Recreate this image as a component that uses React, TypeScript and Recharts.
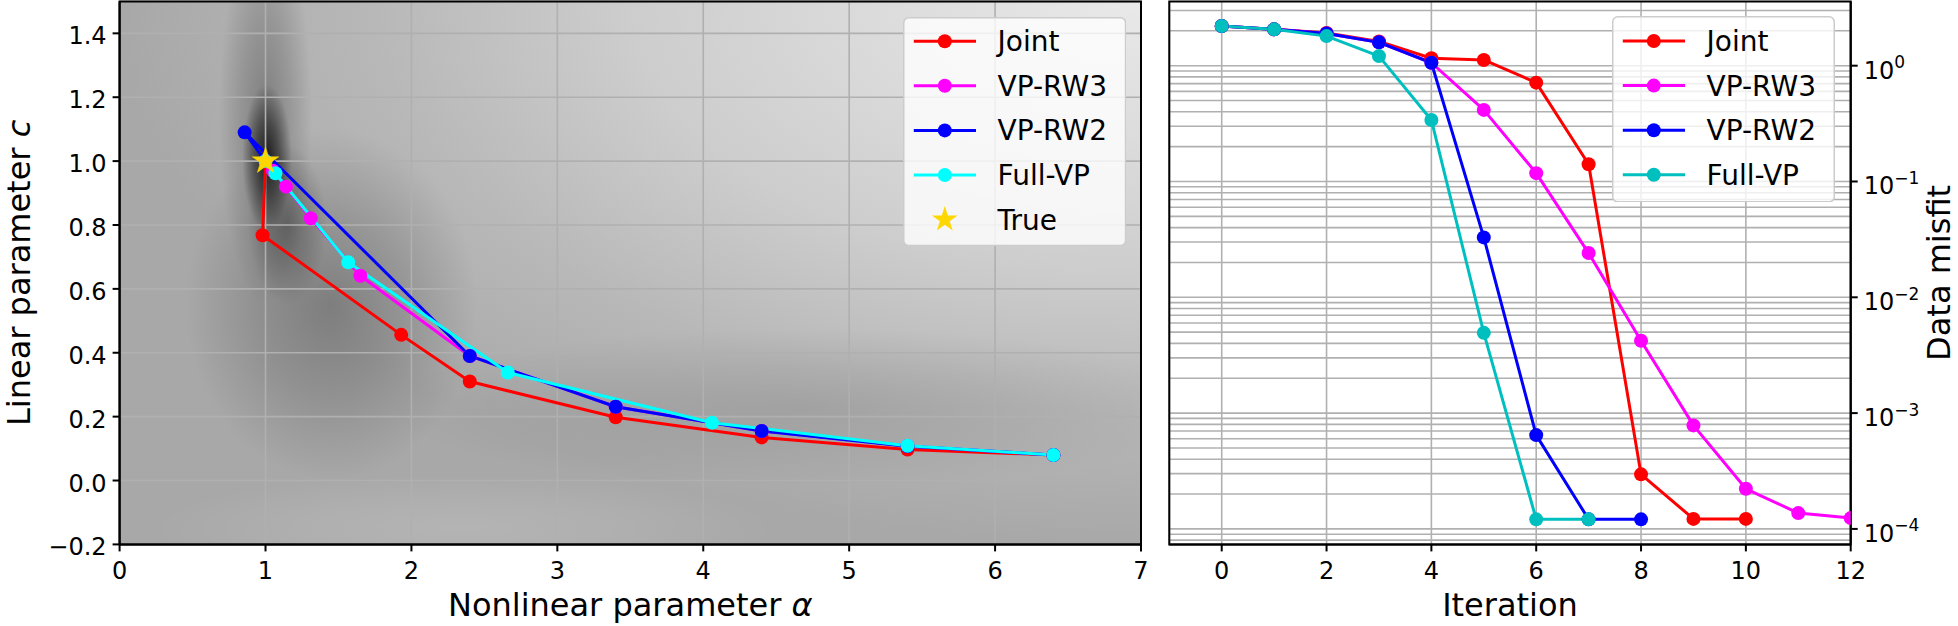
import React from 'react';
import {
  ComposedChart,
  Line,
  Scatter,
  XAxis,
  YAxis,
  CartesianGrid,
  ReferenceArea,
  ReferenceLine,
  Legend,
} from 'recharts';

const FONT = '"DejaVu Sans", "Liberation Sans", sans-serif';

// ---------------- Left panel: trajectories in (alpha, c) ----------------
const JOINT_ALPHA = [6.4, 5.4, 4.4, 3.4, 2.4, 1.93, 0.98, 1.0];
const JOINT_C = [0.08, 0.097, 0.135, 0.198, 0.31, 0.456, 0.768, 1.0];
const RW3_ALPHA = [6.4, 5.4, 4.4, 3.4, 2.4, 1.65, 1.31, 1.14, 1.05, 1.0];
const RW3_C = [0.08, 0.108, 0.155, 0.231, 0.39, 0.641, 0.821, 0.92, 0.97, 1.0];
const RW2_ALPHA = [6.4, 5.4, 4.4, 3.4, 2.4, 0.857, 1.0];
const RW2_C = [0.08, 0.107, 0.155, 0.231, 0.39, 1.09, 1.0];
const FULLVP_ALPHA = [6.4, 5.4, 4.06, 2.66, 1.567, 1.068, 1.0];
const FULLVP_C = [0.08, 0.109, 0.181, 0.338, 0.683, 0.962, 1.0];
const TRUE_ALPHA = [1.0];
const TRUE_C = [1.0];

const LEFT_X_TICKS = [0, 1, 2, 3, 4, 5, 6, 7];
const LEFT_Y_TICKS = [-0.2, 0, 0.2, 0.4, 0.6, 0.8, 1.0, 1.2, 1.4];

// ---------------- Right panel: data misfit vs iteration ----------------
const JOINT_ITER = [0, 1, 2, 3, 4, 5, 6, 7, 8, 9, 10];
const JOINT_MISFIT = [2.2, 2.06, 1.92, 1.62, 1.16, 1.12, 0.714, 0.141, 2.96e-4, 1.22e-4, 1.22e-4];
const RW3_ITER = [0, 1, 2, 3, 4, 5, 6, 7, 8, 9, 10, 11, 12];
const RW3_MISFIT = [2.2, 2.06, 1.9, 1.59, 1.06, 0.415, 0.118, 0.0241, 4.21e-3, 7.83e-4, 2.22e-4, 1.37e-4, 1.24e-4];
const RW2_ITER = [0, 1, 2, 3, 4, 5, 6, 7, 8];
const RW2_MISFIT = [2.2, 2.06, 1.9, 1.59, 1.06, 0.0329, 6.46e-4, 1.21e-4, 1.21e-4];
const FULLVP_ITER = [0, 1, 2, 3, 4, 5, 6, 7];
const FULLVP_MISFIT = [2.2, 2.06, 1.8, 1.21, 0.34, 4.93e-3, 1.21e-4, 1.21e-4];

const RIGHT_X_TICKS = [0, 2, 4, 6, 8, 10, 12];
const MAJOR_Y_TICKS = [1e-4, 1e-3, 1e-2, 1e-1, 1];
const LOG_DOMAIN: [number, number] = [7.35e-5, 3.59];
const MINOR_MULT = [2, 3, 4, 5, 6, 7, 8, 9];
const DECADES = [-5, -4, -3, -2, -1, 0];
const MINOR_Y_TICKS = DECADES.flatMap((d) => MINOR_MULT.map((m) => m * Math.pow(10, d))).filter(
  (v) => v >= LOG_DOMAIN[0] && v <= LOG_DOMAIN[1]
);

const SERIES_NAMES = ['Joint', 'VP-RW3', 'VP-RW2', 'Full-VP'];
const LEFT_COLORS = ['#ff0000', '#ff00ff', '#0000ff', '#00ffff'];
const RIGHT_COLORS = ['#ff0000', '#ff00ff', '#0000ff', '#00bfbf'];

const zipAC = (a: number[], c: number[]) => a.map((v, i) => ({ a: v, c: c[i] }));
const zipIM = (it: number[], m: number[]) => it.map((v, i) => ({ i: v, m: m[i] }));

const LEFT_DATA = [
  zipAC(JOINT_ALPHA, JOINT_C),
  zipAC(RW3_ALPHA, RW3_C),
  zipAC(RW2_ALPHA, RW2_C),
  zipAC(FULLVP_ALPHA, FULLVP_C),
];
const TRUE_DATA = zipAC(TRUE_ALPHA, TRUE_C);
const RIGHT_DATA = [
  zipIM(JOINT_ITER, JOINT_MISFIT),
  zipIM(RW3_ITER, RW3_MISFIT),
  zipIM(RW2_ITER, RW2_MISFIT),
  zipIM(FULLVP_ITER, FULLVP_MISFIT),
];

// decorative shading of the misfit landscape behind the left panel (data units)
const BG_BLOBS = [
  { a1: 0.45, a2: 2.45, c1: 0.0, c2: 1.1, op: 0.26, fill: 'url(#blobDark)' },
  { a1: 0.68, a2: 1.32, c1: 0.55, c2: 1.75, op: 0.28, fill: 'url(#blobDark)' },
  { a1: 0.88, a2: 1.42, c1: 0.55, c2: 1.05, op: 0.3, fill: 'url(#blobDark)' },
  { a1: 0.84, a2: 1.18, c1: 0.78, c2: 1.24, op: 0.8, fill: 'url(#blobDark)' },
  { a1: 1.8, a2: 7.6, c1: -0.02, c2: 0.48, op: 0.1, fill: 'url(#blobDark)' },
  { a1: 0.2, a2: 4.5, c1: -0.32, c2: 0.02, op: 0.14, fill: 'url(#blobLight)' },
];

const H = 626;
const LEFT_W = 1160;
const RIGHT_W = 798;
const AXIS_LINE = { stroke: '#000', strokeWidth: 2 };
const TICK_LINE = { stroke: '#000', strokeWidth: 2 };
const LABEL_FS = 32;

const XTick = (props: any) => {
  const { x, y, payload } = props;
  return (
    <text x={x} y={y} dy={17} textAnchor="middle" fontSize={24} fill="#000">
      {String(payload.value)}
    </text>
  );
};

const LinTick = (props: any) => {
  const { x, y, payload } = props;
  const v = payload.value as number;
  const s = (v < 0 ? '\u2212' : '') + Math.abs(v).toFixed(1);
  return (
    <text x={x} y={y} dy={11} textAnchor="end" fontSize={24} fill="#000">
      {s}
    </text>
  );
};

const LogTick = (props: any) => {
  const { x, y, payload } = props;
  const e = Math.round(Math.log10(payload.value));
  const sup = e < 0 ? `\u2212${-e}` : `${e}`;
  return (
    <text x={x} y={y} dy={13} textAnchor="start" fontSize={24} fill="#000">
      10
      <tspan dy={-10.5} fontSize={17}>
        {sup}
      </tspan>
    </text>
  );
};

const starPoints = (cx: number, cy: number, r: number) => {
  const pts: string[] = [];
  for (let k = 0; k < 10; k++) {
    const ang = -Math.PI / 2 + (k * Math.PI) / 5;
    const rr = k % 2 === 0 ? r : r * 0.382;
    pts.push(`${cx + rr * Math.cos(ang)},${cy + rr * Math.sin(ang)}`);
  }
  return pts.join(' ');
};

const StarShape = (props: any) => {
  const { cx, cy } = props;
  return <polygon points={starPoints(cx, cy, 14)} fill="#ffd700" stroke="#ffd700" strokeWidth={0.5} />;
};

type LegendItem = { name: string; color: string; star?: boolean };

const LegendBox = ({ items, width, height, row0 }: { items: LegendItem[]; width: number; height: number; row0: number }) => (
  <svg width={width} height={height} style={{ display: 'block', fontFamily: FONT }}>
    <rect
      x={0.75}
      y={0.75}
      width={width - 1.5}
      height={height - 1.5}
      rx={5}
      ry={5}
      fill="#ffffff"
      fillOpacity={0.8}
      stroke="#cccccc"
      strokeWidth={1.5}
    />
    {items.map((it, k) => {
      const cy = row0 + k * 44.6;
      return (
        <g key={it.name}>
          {it.star ? (
            <polygon points={starPoints(41.8, cy, 13.5)} fill="#ffd700" />
          ) : (
            <g>
              <line x1={10.8} x2={73} y1={cy} y2={cy} stroke={it.color} strokeWidth={3} />
              <circle cx={41.8} cy={cy} r={7} fill={it.color} />
            </g>
          )}
          <text x={94.6} y={cy} dy={10} fontSize={28} fill="#000">
            {it.name}
          </text>
        </g>
      );
    })}
  </svg>
);

const LEFT_LEGEND: LegendItem[] = [
  ...SERIES_NAMES.map((n, i) => ({ name: n, color: LEFT_COLORS[i] })),
  { name: 'True', color: '#ffd700', star: true },
];
const RIGHT_LEGEND: LegendItem[] = SERIES_NAMES.map((n, i) => ({ name: n, color: RIGHT_COLORS[i] }));

const LeftChart = () => (
  <ComposedChart width={LEFT_W} height={H} margin={{ top: 1.4, right: 19, bottom: 0, left: 0 }}>
    <defs>
      <radialGradient id="bgLight" cx="1" cy="0" r="1" fx="1" fy="0">
        <stop offset="0" stopColor="#e9e9e9" />
        <stop offset="0.25" stopColor="#dcdcdc" />
        <stop offset="0.5" stopColor="#cdcdcd" />
        <stop offset="0.75" stopColor="#b8b8b8" />
        <stop offset="1" stopColor="#a8a8a8" />
      </radialGradient>
      <radialGradient id="blobDark" cx="0.5" cy="0.5" r="0.5">
        <stop offset="0" stopColor="#000" stopOpacity="1" />
        <stop offset="0.5" stopColor="#000" stopOpacity="0.55" />
        <stop offset="1" stopColor="#000" stopOpacity="0" />
      </radialGradient>
      <radialGradient id="blobLight" cx="0.5" cy="0.5" r="0.5">
        <stop offset="0" stopColor="#fff" stopOpacity="1" />
        <stop offset="0.5" stopColor="#fff" stopOpacity="0.6" />
        <stop offset="1" stopColor="#fff" stopOpacity="0" />
      </radialGradient>
    </defs>
    <XAxis
      type="number"
      dataKey="a"
      domain={[0, 7]}
      ticks={LEFT_X_TICKS}
      interval={0}
      allowDataOverflow
      height={81.6}
      tickSize={7}
      tickMargin={10.6}
      tick={<XTick />}
      axisLine={AXIS_LINE}
      tickLine={TICK_LINE}
    />
    <YAxis
      type="number"
      dataKey="c"
      domain={[-0.2, 1.5]}
      ticks={LEFT_Y_TICKS}
      interval={0}
      allowDataOverflow
      width={119.6}
      tickSize={7}
      tickMargin={6}
      tick={<LinTick />}
      axisLine={AXIS_LINE}
      tickLine={TICK_LINE}
    />
    <ReferenceArea
      x1={0}
      x2={7}
      y1={-0.2}
      y2={1.5}
      fill="url(#bgLight)"
      fillOpacity={1}
      stroke="none"
      ifOverflow="hidden"
      zIndex={-300}
    />
    {BG_BLOBS.map((b, k) => (
      <ReferenceArea
        key={`blob${k}`}
        x1={b.a1}
        x2={b.a2}
        y1={b.c1}
        y2={b.c2}
        fill={b.fill}
        fillOpacity={b.op}
        stroke="none"
        ifOverflow="hidden"
        zIndex={-200}
      />
    ))}
    <CartesianGrid stroke="#b0b0b0" strokeWidth={1.6} />
    {LEFT_DATA.map((d, k) => (
      <Line
        key={SERIES_NAMES[k]}
        data={d}
        dataKey="c"
        name={SERIES_NAMES[k]}
        type="linear"
        stroke={LEFT_COLORS[k]}
        strokeWidth={3}
        strokeLinejoin="round"
        dot={{ r: 7, fill: LEFT_COLORS[k], stroke: 'none', strokeWidth: 0 }}
        activeDot={false}
        isAnimationActive={false}
      />
    ))}
    <Scatter data={TRUE_DATA} name="True" shape={<StarShape />} isAnimationActive={false} zIndex={3000} />
    <ReferenceArea x1={0} x2={7} y1={-0.2} y2={1.5} fill="none" stroke="#000" strokeWidth={2} ifOverflow="visible" />
    <Legend
      layout="vertical"
      align="center"
      verticalAlign="middle"
      wrapperStyle={{ left: 902.7, top: 16.7, width: 223.3, height: 229.3 }}
      content={() => <LegendBox items={LEFT_LEGEND} width={223.3} height={229.3} row0={24.2} />}
    />
    <text x={630.3} y={616} textAnchor="middle" fontSize={LABEL_FS} fill="#000">
      Nonlinear parameter <tspan fontStyle="italic">α</tspan>
    </text>
    <text transform="translate(30,272.9) rotate(-90)" textAnchor="middle" fontSize={LABEL_FS} fill="#000">
      Linear parameter <tspan fontStyle="italic">c</tspan>
    </text>
  </ComposedChart>
);

const RightChart = () => (
  <ComposedChart width={RIGHT_W} height={H} margin={{ top: 1.4, right: 0, bottom: 0, left: 9.3 }}>
    <XAxis
      type="number"
      dataKey="i"
      domain={[-1, 12]}
      ticks={RIGHT_X_TICKS}
      interval={0}
      allowDataOverflow
      height={81.6}
      tickSize={7}
      tickMargin={10.6}
      tick={<XTick />}
      axisLine={AXIS_LINE}
      tickLine={TICK_LINE}
    />
    <YAxis
      yAxisId="minor"
      orientation="right"
      type="number"
      scale="log"
      dataKey="m"
      domain={LOG_DOMAIN}
      allowDataOverflow
      ticks={MINOR_Y_TICKS}
      interval={0}
      width={0}
      tickSize={4}
      tick={false}
      axisLine={false}
      tickLine={{ stroke: '#000', strokeWidth: 1.5 }}
    />
    <YAxis
      yAxisId="main"
      orientation="right"
      type="number"
      scale="log"
      dataKey="m"
      domain={LOG_DOMAIN}
      allowDataOverflow
      ticks={MAJOR_Y_TICKS}
      interval={0}
      width={107.3}
      tickSize={7}
      tickMargin={6}
      tick={<LogTick />}
      axisLine={AXIS_LINE}
      tickLine={TICK_LINE}
    />
    <CartesianGrid yAxisId="main" horizontal={false} stroke="#b0b0b0" strokeWidth={1.6} />
    {[...MAJOR_Y_TICKS, ...MINOR_Y_TICKS].map((v) => (
      <ReferenceLine
        key={`g${v}`}
        yAxisId="main"
        y={v}
        stroke="#b0b0b0"
        strokeWidth={1.6}
        ifOverflow="hidden"
        zIndex={-90}
      />
    ))}
    {RIGHT_DATA.map((d, k) => (
      <Line
        key={SERIES_NAMES[k]}
        yAxisId="main"
        data={d}
        dataKey="m"
        name={SERIES_NAMES[k]}
        type="linear"
        stroke={RIGHT_COLORS[k]}
        strokeWidth={3}
        strokeLinejoin="round"
        dot={{ r: 7, fill: RIGHT_COLORS[k], stroke: 'none', strokeWidth: 0 }}
        activeDot={false}
        isAnimationActive={false}
      />
    ))}
    <ReferenceArea
      yAxisId="main"
      x1={-1}
      x2={12}
      y1={LOG_DOMAIN[0]}
      y2={LOG_DOMAIN[1]}
      fill="none"
      stroke="#000"
      strokeWidth={2}
      ifOverflow="visible"
    />
    <Legend
      layout="vertical"
      align="center"
      verticalAlign="middle"
      wrapperStyle={{ left: 452.3, top: 15.7, width: 223, height: 186.6 }}
      content={() => <LegendBox items={RIGHT_LEGEND} width={223} height={186.6} row0={25} />}
    />
    <text x={350} y={616} textAnchor="middle" fontSize={LABEL_FS} fill="#000">
      Iteration
    </text>
    <text transform="translate(790,272.9) rotate(-90)" textAnchor="middle" fontSize={LABEL_FS} fill="#000">
      Data misfit
    </text>
  </ComposedChart>
);

export default function App() {
  return (
    <div
      style={{
        position: 'absolute',
        left: 0,
        top: 0,
        width: 1958,
        height: 626,
        background: '#ffffff',
        fontFamily: FONT,
        overflow: 'hidden',
      }}
    >
      <div style={{ position: 'absolute', left: 0, top: 0 }}>
        <LeftChart />
      </div>
      <div style={{ position: 'absolute', left: 1160, top: 0 }}>
        <RightChart />
      </div>
    </div>
  );
}
